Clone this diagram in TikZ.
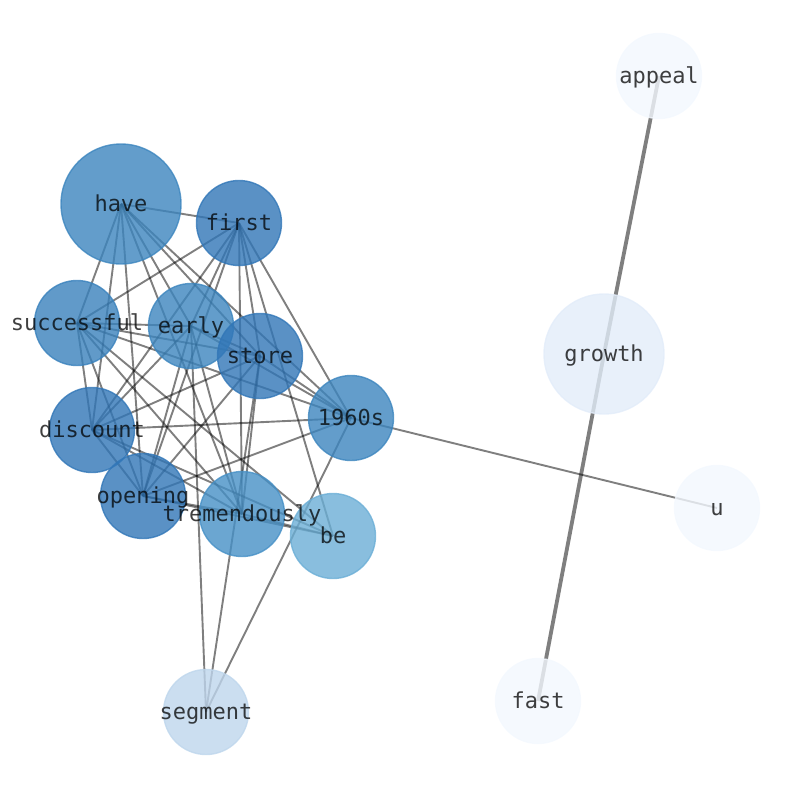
\documentclass[tikz,border=0pt]{standalone}
\usepackage{fontspec}
\newfontfamily\labelfont{DejaVu Sans Mono}
\pgfdeclarelayer{edges}
\pgfsetlayers{edges,main}
\definecolor{cHave}{RGB}{60,133,190}
\definecolor{cDark}{RGB}{49,118,183}
\definecolor{cMid}{RGB}{57,129,188}
\definecolor{cTrem}{RGB}{70,144,198}
\definecolor{cBe}{RGB}{107,174,214}
\definecolor{cSeg}{RGB}{190,214,236}
\definecolor{cGrowth}{RGB}{226,236,249}
\definecolor{cPale}{RGB}{243,248,254}
\tikzset{
  vtx/.style={circle, inner sep=0pt, minimum size=85pt, line width=1.4pt, opacity=0.8, fill=#1, draw=#1},
  bigvtx/.style={minimum size=120pt},
  lbl/.style={font=\labelfont\fontsize{22}{26}\selectfont, text=black, text opacity=0.75, inner sep=0pt, text height=16pt, text depth=2pt},
  edge/.style={draw=black, opacity=0.5, line width=1.9pt},
  heavy/.style={line width=3.8pt}
}
\begin{document}
\begin{tikzpicture}[x=1pt,y=-1pt]
\useasboundingbox (0,0) rectangle (794,790);
% circles
\node[vtx=cHave, bigvtx] (have) at (121,204) {};
\node[vtx=cDark] (first) at (239,223) {};
\node[vtx=cMid] (successful) at (77,323) {};
\node[vtx=cHave] (early) at (191,326) {};
\node[vtx=cDark] (store) at (260,356) {};
\node[vtx=cHave] (y1960s) at (351,418) {};
\node[vtx=cDark] (discount) at (92,430) {};
\node[vtx=cDark] (opening) at (143,496) {};
\node[vtx=cTrem] (tremendously) at (242,514) {};
\node[vtx=cBe] (be) at (333,536) {};
\node[vtx=cSeg] (segment) at (206,712) {};
\node[vtx=cPale] (appeal) at (659,76) {};
\node[vtx=cGrowth, bigvtx] (growth) at (604,354) {};
\node[vtx=cPale] (u) at (717,508) {};
\node[vtx=cPale] (fast) at (538,701) {};
% edges
\begin{pgfonlayer}{edges}
\foreach \a/\b in {have/first, have/successful, have/early, have/store, have/y1960s, have/discount, have/opening, have/tremendously,
  first/successful, first/early, first/store, first/y1960s, first/discount, first/opening, first/tremendously, first/be,
  successful/early, successful/store, successful/y1960s, successful/discount, successful/opening, successful/tremendously, successful/be,
  early/store, early/y1960s, early/discount, early/opening, early/tremendously, early/segment,
  store/y1960s, store/discount, store/opening, store/tremendously, store/segment,
  y1960s/discount, y1960s/opening, y1960s/segment, y1960s/u,
  discount/opening, discount/tremendously, discount/be,
  opening/tremendously, opening/be,
  tremendously/be}
  \draw[edge] (\a.center) -- (\b.center);
\draw[edge, heavy] (growth.center) -- (appeal.center);
\draw[edge, heavy] (growth.center) -- (fast.center);
\end{pgfonlayer}
% labels
\foreach \n/\t in {have/have, first/first, successful/successful, early/early, store/store, y1960s/1960s,
  discount/discount, opening/opening, tremendously/tremendously, be/be, segment/segment,
  appeal/appeal, growth/growth, u/u, fast/fast}
  \node[lbl] (\n-text) at (\n.center) {\t};
\end{tikzpicture}
\end{document}
